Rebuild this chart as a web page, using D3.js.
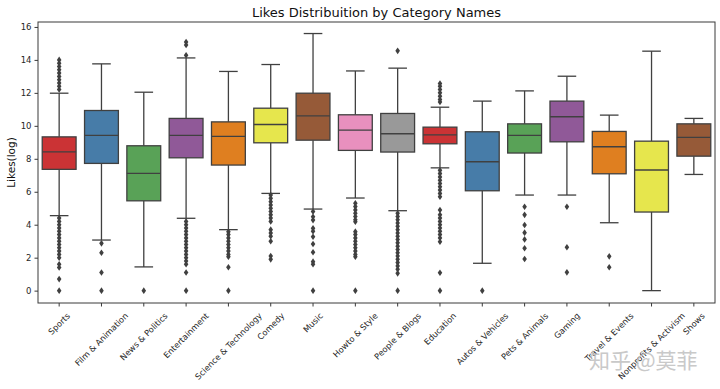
<!DOCTYPE html>
<html>
<head>
<meta charset="utf-8">
<script src="https://cdn.jsdelivr.net/npm/d3@7"></script>
<style>
  body { margin: 0; background: #fff; }
  svg { display: block; font-family: "DejaVu Sans", sans-serif; }
</style>
</head>
<body>
<div id="chart"></div>
<script>
const categories = ["Sports", "Film & Animation", "News & Politics", "Entertainment",
  "Science & Technology", "Comedy", "Music", "Howto & Style", "People & Blogs",
  "Education", "Autos & Vehicles", "Pets & Animals", "Gaming", "Travel & Events",
  "Nonprofits & Activism", "Shows"];

// box stats (log likes)
const whiskerLow  = [4.55, 3.07, 1.44, 4.39, 3.70, 5.90, 4.95, 5.62, 4.85, 7.45, 1.66, 5.80, 5.80, 4.12, 0.00, 7.05];
const q1          = [7.36, 7.72, 5.45, 8.06, 7.62, 8.97, 9.13, 8.51, 8.41, 8.91, 6.06, 8.35, 9.03, 7.09, 4.77, 8.16];
const medians     = [8.42, 9.42, 7.11, 9.42, 9.36, 10.08, 10.61, 9.74, 9.52, 9.45, 7.82, 9.42, 10.55, 8.73, 7.32, 9.30];
const q3          = [9.33, 10.93, 8.79, 10.45, 10.24, 11.07, 11.98, 10.67, 10.75, 9.92, 9.64, 10.12, 11.50, 9.66, 9.07, 10.12];
const whiskerHigh = [11.98, 13.76, 12.04, 14.12, 13.30, 13.72, 15.60, 13.33, 13.50, 11.13, 11.50, 12.12, 13.01, 10.65, 14.53, 10.45];

// fliers per category
const outliers = [
  [12.2, 12.4, 12.6, 12.8, 13.0, 13.2, 13.4, 13.6, 13.8, 14.0,
   4.4, 4.2, 4.0, 3.8, 3.6, 3.4, 3.2, 3.0, 2.8, 2.6, 2.4, 2.2, 2.0, 1.6, 1.4, 0.7, 0],
  [2.87, 2.3, 1.1, 0],
  [0],
  [14.28, 14.9, 15.09,
   4.2, 4.0, 3.8, 3.6, 3.4, 3.2, 3.0, 2.8, 2.6, 2.4, 2.2, 2.0, 1.8, 1.6, 1.1, 0],
  [3.58, 3.4, 3.2, 3.0, 2.8, 2.6, 2.4, 2.2, 2.06, 1.42, 0],
  [5.8, 5.6, 5.4, 5.2, 5.0, 4.8, 4.6, 4.4, 4.2, 3.7, 3.5, 3.3, 3.0, 2.1, 1.9],
  [4.8, 4.48, 4.28, 3.78, 3.6, 3.27, 2.83, 2.33, 1.76, 1.6, 0],
  [5.3, 5.1, 4.9, 4.7, 4.5, 4.3, 4.18, 3.58, 3.4, 3.2, 3.0, 2.8, 2.6, 2.4, 2.2, 2.06, 0],
  [14.55,
   4.69, 4.5, 4.3, 4.1, 3.9, 3.7, 3.5, 3.3, 3.1, 2.9, 2.7, 2.5, 2.3, 2.1, 1.9, 1.7, 1.5, 1.3, 1.05, 0],
  [11.45, 11.6, 11.8, 12.0, 12.2, 12.4, 12.57,
   7.3, 7.1, 6.9, 6.7, 6.5, 6.3, 6.1, 5.9, 5.7, 4.89, 4.6, 4.4, 4.2, 4.0, 3.8, 3.6, 3.4, 3.2, 2.97, 1.09, 0],
  [0],
  [5.09, 4.6, 3.98, 3.52, 3.11, 2.57, 1.92],
  [5.09, 2.63, 1.11],
  [2.08, 1.42],
  [],
  []
];

const yTicks = [0, 2, 4, 6, 8, 10, 12, 14, 16];

const palette = ["#cb3335", "#477ca8", "#59a257", "#905998", "#df7f20",
  "#e6e64d", "#965a38", "#e890be", "#999999"];

const W = 720, H = 389;
const margin = { top: 22, right: 5, bottom: 86, left: 38 };
const width = W - margin.left - margin.right;
const height = H - margin.top - margin.bottom;
const lineCol = "#404040";

const svg = d3.select("#chart").append("svg")
  .attr("width", W)
  .attr("height", H);

const g = svg.append("g")
  .attr("transform", `translate(${margin.left},${margin.top})`);

const x = d3.scaleBand()
  .domain(categories)
  .range([0, width])
  .paddingInner(0)
  .paddingOuter(0);

const y = d3.scaleLinear()
  .domain([-0.75, 16.3])
  .range([height, 0]);

const boxW = x.bandwidth() * 0.8;
const capW = boxW * 0.55;

const data = categories.map((c, i) => ({
  cat: c, lo: whiskerLow[i], q1: q1[i], med: medians[i], q3: q3[i],
  hi: whiskerHigh[i], out: outliers[i], color: palette[i % palette.length]
}));

const boxes = g.selectAll(".box")
  .data(data)
  .enter().append("g")
  .attr("class", "box")
  .attr("transform", d => `translate(${x(d.cat) + x.bandwidth() / 2},0)`);

// whiskers
boxes.append("line")
  .attr("x1", 0).attr("x2", 0)
  .attr("y1", d => y(d.hi)).attr("y2", d => y(d.q3))
  .attr("stroke", lineCol).attr("stroke-width", 1.3);
boxes.append("line")
  .attr("x1", 0).attr("x2", 0)
  .attr("y1", d => y(d.q1)).attr("y2", d => y(d.lo))
  .attr("stroke", lineCol).attr("stroke-width", 1.3);
// caps
boxes.append("line")
  .attr("x1", -capW / 2).attr("x2", capW / 2)
  .attr("y1", d => y(d.hi)).attr("y2", d => y(d.hi))
  .attr("stroke", lineCol).attr("stroke-width", 1.3);
boxes.append("line")
  .attr("x1", -capW / 2).attr("x2", capW / 2)
  .attr("y1", d => y(d.lo)).attr("y2", d => y(d.lo))
  .attr("stroke", lineCol).attr("stroke-width", 1.3);

// boxes
boxes.append("rect")
  .attr("x", -boxW / 2)
  .attr("width", boxW)
  .attr("y", d => y(d.q3))
  .attr("height", d => y(d.q1) - y(d.q3))
  .attr("fill", d => d.color)
  .attr("stroke", lineCol)
  .attr("stroke-width", 1.3);

// medians
boxes.append("line")
  .attr("x1", -boxW / 2).attr("x2", boxW / 2)
  .attr("y1", d => y(d.med)).attr("y2", d => y(d.med))
  .attr("stroke", lineCol).attr("stroke-width", 1.3);

// fliers (thin diamonds)
boxes.selectAll(".flier")
  .data(d => d.out)
  .enter().append("path")
  .attr("class", "flier")
  .attr("d", v => `M0,${y(v) - 3.3}L2.3,${y(v)}L0,${y(v) + 3.3}L-2.3,${y(v)}Z`)
  .attr("fill", lineCol);

// frame
g.append("rect")
  .attr("width", width).attr("height", height)
  .attr("fill", "none")
  .attr("stroke", "#3a3a3a")
  .attr("stroke-width", 1);

// y axis
const yAxis = g.append("g")
  .call(d3.axisLeft(y).tickValues(yTicks).tickSize(3.5).tickPadding(3));
yAxis.select(".domain").remove();
yAxis.selectAll("line").attr("stroke", "#3a3a3a");
yAxis.selectAll("text")
  .style("font-family", "DejaVu Sans")
  .style("font-size", "8.5px")
  .attr("fill", "#262626");

// x axis ticks
const xAxis = g.append("g")
  .attr("transform", `translate(0,${height})`)
  .call(d3.axisBottom(x).tickSize(3.5).tickFormat(""));
xAxis.select(".domain").remove();
xAxis.selectAll("line").attr("stroke", "#3a3a3a");

// rotated x labels, centred under the tick like matplotlib (ha=center)
const fs = 8.3;
const labelTop = height + 8;
categories.forEach(c => {
  const cx = x(c) + x.bandwidth() / 2;
  const t = g.append("text")
    .attr("text-anchor", "middle")
    .attr("dominant-baseline", "central")
    .style("font-family", "DejaVu Sans")
    .style("font-size", fs + "px")
    .attr("fill", "#262626")
    .text(c);
  const L = t.node().getComputedTextLength();
  const cy = labelTop + (L + fs * 1.1) / (2 * Math.SQRT2);
  t.attr("x", cx).attr("y", cy)
    .attr("transform", `rotate(-45,${cx},${cy})`);
});

// title
svg.append("text")
  .attr("x", margin.left + width / 2)
  .attr("y", 17)
  .attr("text-anchor", "middle")
  .style("font-family", "DejaVu Sans")
  .style("font-size", "13px")
  .attr("fill", "#111")
  .text("Likes Distribuition by Category Names");

// y label
svg.append("text")
  .attr("transform", `translate(15,${margin.top + height / 2}) rotate(-90)`)
  .attr("text-anchor", "middle")
  .style("font-family", "DejaVu Sans")
  .style("font-size", "10.5px")
  .attr("fill", "#111")
  .text("Likes(log)");

// watermark
svg.append("text")
  .attr("x", 589)
  .attr("y", 368)
  .style("font-family", "Noto Sans CJK SC")
  .style("font-size", "21px")
  .attr("fill", "#c4c4c4")
  .attr("opacity", 0.9)
  .text("知乎 @莫菲");
</script>
</body>
</html>
